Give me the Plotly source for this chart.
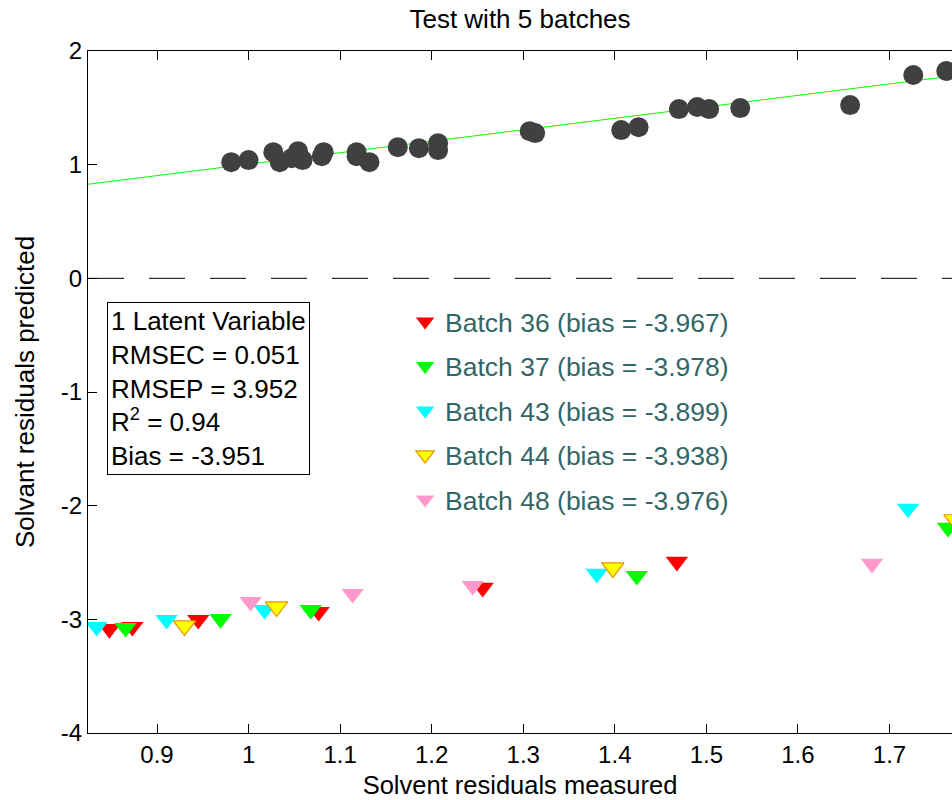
import plotly.graph_objects as go

# ---- data ----
cal_x = [0.981, 1.000, 1.027, 1.034, 1.054, 1.059, 1.047, 1.082, 1.080, 1.118, 1.118,
         1.132, 1.163, 1.186, 1.207, 1.207, 1.307, 1.313, 1.407, 1.426, 1.470, 1.490,
         1.503, 1.537, 1.657, 1.726, 1.762]
cal_y = [1.022, 1.040, 1.110, 1.022, 1.119, 1.040, 1.057, 1.110, 1.075, 1.110, 1.075,
         1.022, 1.154, 1.145, 1.189, 1.128, 1.295, 1.278, 1.304, 1.330, 1.489, 1.507,
         1.489, 1.498, 1.524, 1.789, 1.824]

fit_x = [0.80, 1.80]
fit_y = [0.803, 1.811]

batch_names = ["Batch 36", "Batch 37", "Batch 43", "Batch 44", "Batch 48"]
batch_bias = ["-3.967", "-3.978", "-3.899", "-3.938", "-3.976"]

b36_x = [0.848, 0.873, 0.945, 1.0765, 1.2557, 1.4678]
b36_y = [-3.084, -3.066, -3.004, -2.934, -2.722, -2.493]
b37_x = [0.8656, 0.9694, 1.0678, 1.424, 1.764]
b37_y = [-3.075, -2.996, -2.916, -2.617, -2.194]
b43_x = [0.834, 0.9104, 1.0175, 1.3803, 1.7202]
b43_y = [-3.066, -3.004, -2.916, -2.599, -2.026]
b44_x = [0.930, 1.0306, 1.3978, 1.7716]
b44_y = [-3.057, -2.890, -2.546, -2.123]
b48_x = [1.0022, 1.1137, 1.2448, 1.6809]
b48_y = [-2.846, -2.775, -2.705, -2.511]

x_ticks = [0.9, 1.0, 1.1, 1.2, 1.3, 1.4, 1.5, 1.6, 1.7]
x_tick_labels = ["0.9", "1", "1.1", "1.2", "1.3", "1.4", "1.5", "1.6", "1.7"]
y_ticks = [-4, -3, -2, -1, 0, 1, 2]
y_tick_labels = ["-4", "-3", "-2", "-1", "0", "1", "2"]

stats_lines = ["1 Latent Variable", "RMSEC = 0.051", "RMSEP = 3.952",
               "R<sup>2</sup> = 0.94", "Bias = -3.951"]

# ---- styles ----
FONT = "Liberation Sans, Arial, sans-serif"
batch_data = [(b36_x, b36_y), (b37_x, b37_y), (b43_x, b43_y), (b44_x, b44_y), (b48_x, b48_y)]
batch_fill = ["#FF0000", "#00FF00", "#00FFFF", "#FFFF00", "#FF99CC"]
batch_edge = ["#FF0000", "#00FF00", "#00FFFF", "#E69500", "#FF99CC"]
batch_edge_w = [0, 0, 0, 1.2, 0]

fig = go.Figure()

fig.add_trace(go.Scatter(x=fit_x, y=fit_y, mode="lines",
                         line=dict(color="#00FF00", width=1), showlegend=False,
                         hoverinfo="skip"))
fig.add_trace(go.Scatter(x=cal_x, y=cal_y, mode="markers",
                         marker=dict(symbol="circle", size=20, color="#404040",
                                     line=dict(width=0)),
                         showlegend=False))

for i, (bx, by) in enumerate(batch_data):
    fig.add_trace(go.Scatter(
        x=bx, y=by, mode="markers",
        name=f"{batch_names[i]} (bias = {batch_bias[i]})",
        legendgroup=batch_names[i],
        marker=dict(symbol="triangle-down", size=19.5, color=batch_fill[i],
                    line=dict(color=batch_edge[i], width=batch_edge_w[i])),
    ))

fig.add_shape(type="line", xref="paper", yref="y", x0=0, x1=1, y0=0, y1=0,
              line=dict(color="black", width=1, dash="36px,25px"))

fig.add_annotation(xref="paper", yref="paper", x=0.022, y=0.632,
                   xanchor="left", yanchor="top", align="left",
                   text="<br>".join(stats_lines), showarrow=False,
                   font=dict(family=FONT, size=26, color="black"),
                   bordercolor="black", borderwidth=1, borderpad=3,
                   bgcolor="white")

fig.update_layout(
    width=952, height=800,
    margin=dict(l=88, r=0, t=51, b=67),
    paper_bgcolor="white", plot_bgcolor="white",
    font=dict(family=FONT, size=24, color="black"),
    title=dict(text="Test with 5 batches", x=0.5, xref="paper", xanchor="center",
               y=1 - 19 / 800, yref="container", yanchor="middle",
               font=dict(family=FONT, size=26, color="black")),
    showlegend=True,
    legend=dict(x=0.367, y=0.638, xanchor="left", yanchor="top",
                bgcolor="rgba(0,0,0,0)", borderwidth=0,
                font=dict(family=FONT, size=26.5, color="#336666"),
                traceorder="grouped", tracegroupgap=7),
    xaxis=dict(range=[0.8246, 1.7683], tickvals=x_ticks, ticktext=x_tick_labels,
               ticks="inside", ticklen=9, tickcolor="black", showline=True,
               linecolor="black", linewidth=1, mirror="ticks", showgrid=False,
               zeroline=False,
               title=dict(text="Solvent residuals measured", standoff=9,
                          font=dict(family=FONT, size=25.5))),
    yaxis=dict(range=[-4, 2], tickvals=y_ticks, ticktext=y_tick_labels,
               ticks="inside", ticklen=9, tickcolor="black", showline=True,
               linecolor="black", linewidth=1, mirror=False, showgrid=False,
               zeroline=False,
               title=dict(text="Solvant residuals predicted", standoff=18,
                          font=dict(family=FONT, size=26))),
)

fig.write_html("out.html")
